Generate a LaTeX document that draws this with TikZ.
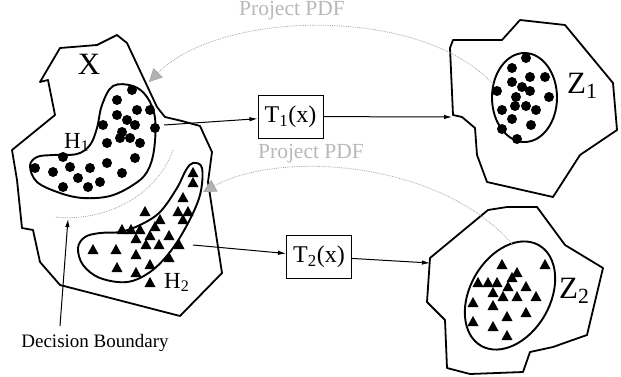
\documentclass[tikz,border=0pt]{standalone}
\usepackage{fontspec}
\setmainfont{Liberation Serif}
\usetikzlibrary{arrows.meta,positioning}

\tikzset{
	region/.style={line width=1.8pt, line join=round},
	cluster/.style={line width=1.9pt},
	lbl/.style={inner sep=0pt, anchor=base west},
	mapbox/.style={draw, line width=1pt, minimum width=65pt, minimum height=43pt, inner sep=0pt, font=\fontsize{24}{24}\selectfont},
	maparrow/.style={line width=1pt, -{Latex[length=8pt,width=4.5pt]}},
	pdfarrow/.style={gray!70, line width=0.8pt, densely dotted, -{Triangle[length=13pt,width=13pt,fill=gray!60]}},
	pdflabel/.style={text=gray!55, font=\fontsize{21.5}{21.5}\selectfont},
	tri/.pic={\fill (0,-6) -- (5.5,4) -- (-5.5,4) -- cycle;},
}

\begin{document}
\begin{tikzpicture}[x=1pt,y=-1pt]
	\fill[white] (0,0) rectangle (621,376);
	\useasboundingbox (0,0) rectangle (621,376);
	% input space X with the two classes
	\draw[region] (60,48) -- (97,45) -- (117,35) -- (127,43) -- (157,107) -- (165,117) -- (182,121) -- (200,126) -- (212,152) -- (208,182) -- (222,273) -- (180,316) -- (95,294) -- (60,285) -- (40,262) -- (33,230) -- (22,228) -- (17,180) -- (12,150) -- (55,115) -- (48,80) -- (40,82) -- cycle;
	\draw[cluster] plot[smooth cycle, tension=0.6] coordinates {(113,86) (133,86) (147,97) (155,118) (154,150) (147,172) (133,185) (110,196) (83,198) (60,193) (37,182) (30,166) (37,157) (53,155) (77,154) (90,145) (97,128) (102,105)};
	\draw[cluster] plot[smooth cycle, tension=0.6] coordinates {(193,163) (202,168) (200,195) (187,225) (170,252) (150,272) (127,282) (100,278) (83,265) (78,248) (85,237) (100,233) (120,232) (140,225) (160,212) (177,188) (186,170)};
	\foreach \p in {(132,90),(117,100),(137,110),(150,110),(117,115),(127,120),(135,125),(103,125),(155,128),(122,132),(120,138),(130,138),(140,143),(107,143),(135,158),(122,173),(107,163),(90,168),(100,182),(88,187),(78,178),(70,167),(63,157),(53,172),(35,168),(63,187)}
		\fill \p circle (5pt);
	\foreach \p in {(193,173),(193,183),(183,198),(178,212),(188,212),(183,220),(145,212),(160,220),(155,227),(122,230),(131,230),(140,230),(136,239),(150,236),(169,236),(146,245),(159,245),(179,245),(93,250),(116,250),(136,255),(169,258),(117,268),(136,273),(150,265),(150,283)}
		\pic at \p {tri};
	\node[lbl, font=\fontsize{31}{31}\selectfont, anchor=center] (xlbl) at (89,64) {X};
	\node[lbl, font=\fontsize{23}{23}\selectfont] (h1lbl) at (64,148) {H\textsubscript{1}};
	\node[lbl, font=\fontsize{23}{23}\selectfont] (h2lbl) at (164,288) {H\textsubscript{2}};
	% decision boundary
	\draw[gray!70, line width=0.8pt, densely dotted] (173,150) .. controls (155,200) and (100,222) .. (55,217);
	\node[lbl, anchor=base, font=\fontsize{19}{19}\selectfont] (dec) at (95,347) {Decision Boundary};
	\coordinate (dbfoot) at (60,326);
	\coordinate (dbtip) at (68,219);
	\draw[maparrow] (dbfoot) -- (dbtip);

	% feature space Z1
	\draw[region] (453,40) -- (502,40) -- (520,20) -- (565,25) -- (613,83) -- (617,130) -- (580,155) -- (553,197) -- (487,182) -- (477,155) -- (475,128) -- (462,117) -- (453,115) -- (450,48) -- cycle;
	\draw[cluster] (524.5,97.5) ellipse [x radius=32.5pt, y radius=44.5pt];
	\foreach \p in {(526,58),(512,68),(530,77),(545,77),(512,82),(522,87),(530,91),(497,91),(549,97),(516,97),(515,106),(526,106),(536,110),(502,110),(512,119),(531,125),(502,129),(517,139)}
		\fill \p circle (5pt);
	\node[lbl, font=\fontsize{31}{31}\selectfont] (z1lbl) at (567,93) {Z\textsubscript{1}};

	% feature space Z2
	\draw[region] (488,210) -- (507,207) -- (537,207) -- (565,245) -- (603,268) -- (587,335) -- (567,342) -- (553,347) -- (530,352) -- (523,372) -- (470,374) -- (447,368) -- (445,320) -- (427,302) -- (430,258) -- cycle;
	\draw[cluster, rotate around={60:(510,295.5)}] (510,295.5) ellipse [x radius=58pt, y radius=40pt];
	\foreach \p in {(502,265),(545,265),(517,273),(512,278),(478,283),(488,283),(497,283),(508,287),(526,287),(493,293),(503,297),(517,297),(536,297),(473,303),(493,306),(526,313),(507,317),(473,322),(493,327),(507,336)}
		\pic at \p {tri};
	\node[lbl, font=\fontsize{31}{31}\selectfont] (z2lbl) at (559,298) {Z\textsubscript{2}};

	% mappings
	\node[mapbox] (T1) at (290.5,116.5) {T\textsubscript{1}(x)};
	\node[mapbox] (T2) at (319,256.5) {T\textsubscript{2}(x)};
	\coordinate (h1out) at (164,125);
	\coordinate (z1in) at (452,117);
	\coordinate (h2out) at (193,245);
	\coordinate (z2in) at (430,263);
	\draw[maparrow] (h1out) -- (T1);
	\draw[maparrow] (T1) -- (z1in);
	\draw[maparrow] (h2out) -- (T2);
	\draw[maparrow] (T2) -- (z2in);

	% projected pdfs
	\coordinate (z1src) at (493,84);
	\coordinate (xtip) at (149,82);
	\draw[pdfarrow] (z1src) .. controls (420,5) and (220,10) .. (xtip);
	\node[pdflabel] (pdf1) at (292,11) {Project PDF};
	\coordinate (z2src) at (513,245);
	\coordinate (h2tip) at (203,192);
	\draw[pdfarrow] (z2src) .. controls (440,160) and (280,150) .. (h2tip);
	\node[pdflabel] (pdf2) at (311,154) {Project PDF};
\end{tikzpicture}
\end{document}
